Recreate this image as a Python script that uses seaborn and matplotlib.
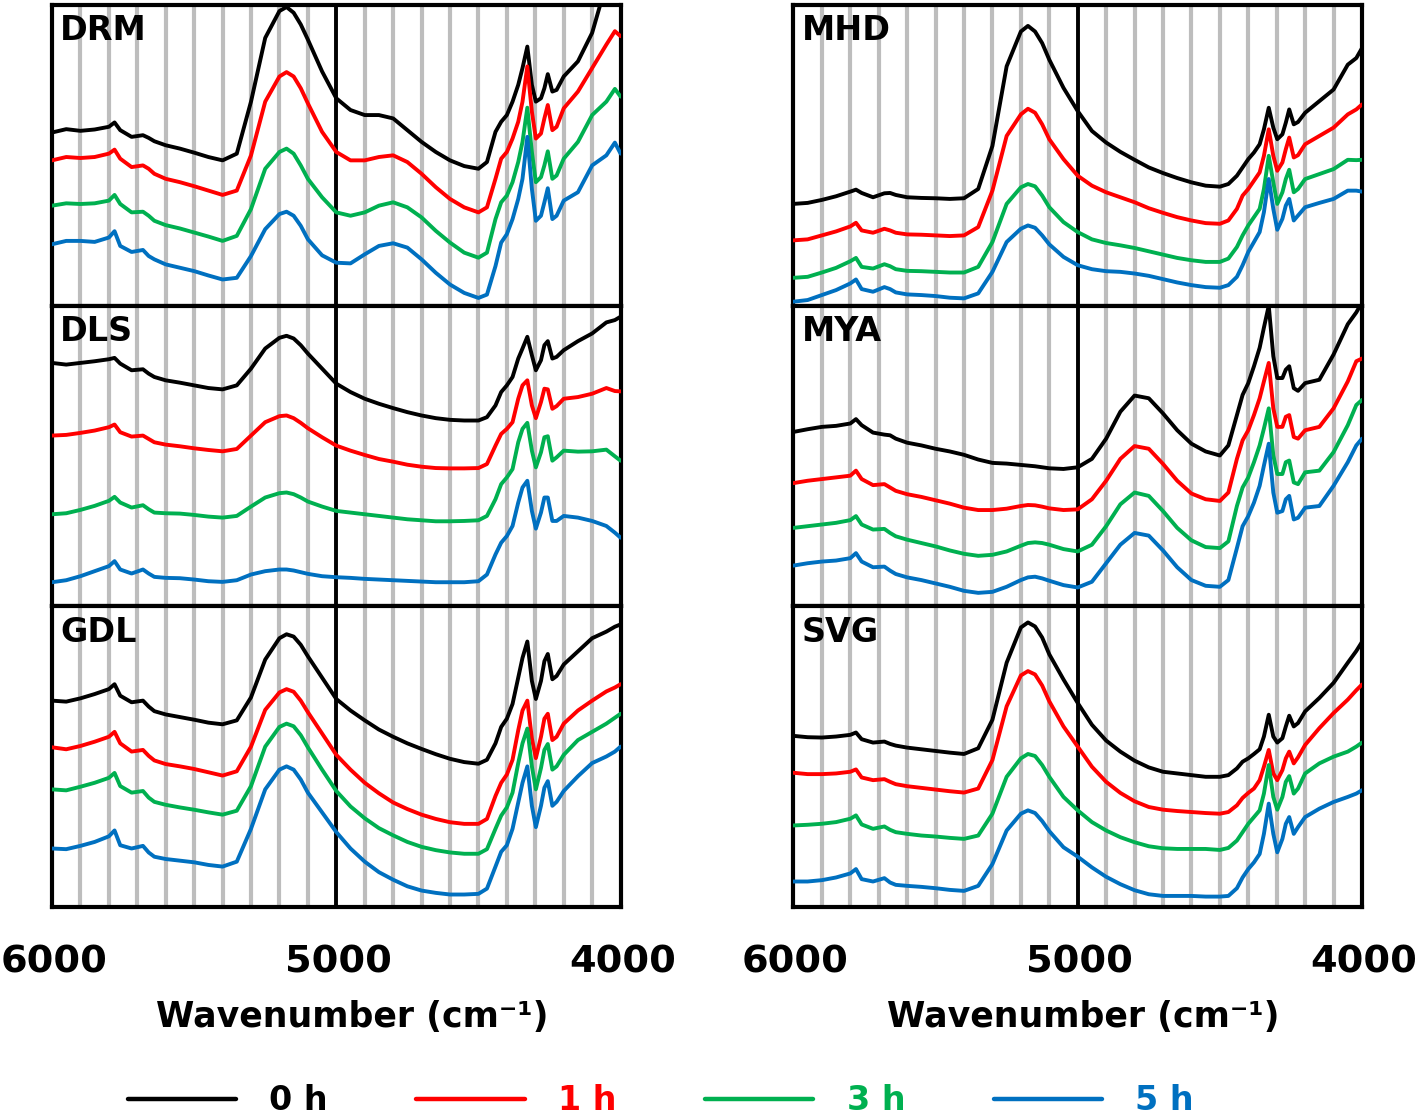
import matplotlib
matplotlib.use("Agg")
import pandas as pd
import matplotlib.pyplot as plt
import seaborn as sns
from matplotlib.ticker import FixedLocator, MultipleLocator
from matplotlib.lines import Line2D
from matplotlib.transforms import ScaledTranslation

# wavenumber grid (cm-1), shared by all spectra
wavenumber = [6000, 5950, 5900, 5850, 5800, 5780, 5760, 5720, 5680, 5660,
              5640, 5600, 5550, 5500, 5450, 5400, 5350, 5300, 5250, 5200,
              5175, 5150, 5125, 5100, 5050, 5000, 4950, 4900, 4850, 4800,
              4750, 4700, 4650, 4600, 4550, 4500, 4470, 4440, 4420, 4400,
              4380, 4360, 4345, 4328, 4312, 4298, 4280, 4268, 4256, 4240,
              4225, 4200, 4150, 4100, 4050, 4020, 4000]

times = ["0 h", "1 h", "3 h", "5 h"]
colors = ["#000000", "#FF0000", "#00B050", "#0070C0"]

# offset spectra, arbitrary units
drm_0h = [516, 526, 521, 525, 533, 546, 523, 503, 508, 500,
          490, 478, 468, 456, 443, 433, 453, 608, 798, 878,
          890, 873, 838, 793, 698, 618, 583, 568, 568, 558,
          523, 488, 458, 433, 416, 408, 428, 518, 548, 568,
          608, 658, 708, 772, 658, 608, 618, 648, 690, 638,
          643, 683, 728, 813, 960, 1010, 1040]
drm_1h = [433, 443, 440, 443, 453, 465, 438, 413, 418, 408,
          393, 378, 368, 356, 343, 330, 343, 448, 608, 683,
          696, 683, 648, 603, 518, 458, 433, 433, 443, 448,
          428, 393, 353, 318, 293, 278, 293, 378, 438, 458,
          498, 548, 608, 713, 578, 498, 513, 558, 598, 523,
          533, 588, 638, 708, 778, 818, 803]
drm_3h = [298, 305, 303, 305, 313, 330, 303, 278, 280, 268,
          253, 240, 230, 218, 206, 193, 208, 288, 408, 458,
          468, 453, 418, 378, 323, 278, 268, 278, 298, 308,
          293, 263, 223, 188, 158, 143, 158, 258, 308, 328,
          368, 428, 488, 590, 458, 368, 383, 418, 460, 378,
          388, 438, 488, 568, 608, 646, 623]
drm_5h = [183, 193, 193, 190, 203, 222, 178, 160, 166, 148,
          138, 123, 113, 103, 90, 78, 83, 148, 228, 273,
          280, 268, 238, 198, 150, 128, 126, 153, 178, 186,
          173, 138, 98, 63, 38, 23, 33, 118, 188, 213,
          258, 318, 378, 503, 348, 253, 268, 308, 350, 258,
          268, 313, 338, 418, 448, 486, 453]

dls_0h = [727, 722, 727, 732, 738, 742, 725, 705, 708, 695,
          685, 675, 668, 660, 652, 648, 660, 710, 770, 802,
          808, 800, 780, 755, 710, 665, 640, 620, 605, 592,
          580, 570, 562, 557, 555, 555, 565, 600, 640, 660,
          685, 740, 770, 805, 750, 705, 735, 780, 792, 740,
          745, 765, 792, 815, 848, 855, 865]
dls_1h = [510, 512, 518, 525, 535, 543, 520, 507, 510, 500,
          490, 483, 478, 472, 467, 463, 470, 510, 550, 568,
          570, 562, 548, 532, 505, 480, 465, 452, 440, 432,
          423, 417, 413, 412, 412, 413, 425, 480, 515, 530,
          550, 620, 660, 675, 600, 562, 610, 650, 648, 590,
          598, 620, 625, 635, 652, 643, 642]
dls_3h = [275, 278, 288, 300, 315, 327, 310, 295, 302, 290,
          280, 278, 277, 273, 268, 265, 270, 298, 325, 338,
          340, 335, 325, 313, 298, 285, 280, 275, 270, 265,
          260, 257, 254, 254, 255, 257, 270, 320, 365, 385,
          410, 490, 530, 548, 465, 415, 460, 505, 508, 435,
          445, 465, 462, 463, 468, 448, 435]
dls_5h = [72, 78, 90, 105, 120, 135, 110, 98, 110, 98,
          88, 85, 84, 80, 75, 73, 78, 95, 105, 110,
          110, 107, 102, 97, 90, 87, 85, 82, 80, 78,
          76, 74, 72, 72, 72, 75, 95, 155, 190, 210,
          240, 310, 355, 375, 285, 232, 280, 325, 325, 255,
          255, 270, 265, 255, 240, 220, 205]

gdl_0h = [628, 625, 635, 648, 663, 678, 643, 623, 628, 610,
          596, 586, 578, 570, 561, 556, 568, 638, 753, 818,
          830, 823, 798, 763, 698, 633, 598, 568, 540, 518,
          498, 481, 465, 451, 441, 436, 448, 498, 548, 573,
          618, 698, 758, 808, 688, 633, 688, 748, 770, 693,
          703, 738, 778, 818, 838, 853, 860]
gdl_1h = [486, 480, 490, 503, 518, 533, 498, 473, 478, 460,
          446, 435, 428, 420, 410, 400, 413, 488, 600, 653,
          663, 655, 628, 593, 528, 463, 418, 378, 346, 318,
          298, 281, 268, 258, 253, 253, 268, 338, 378, 403,
          448, 538, 598, 628, 513, 453, 518, 573, 588, 508,
          518, 558, 598, 628, 656, 668, 678]
gdl_3h = [358, 355, 366, 378, 393, 408, 368, 348, 353, 333,
          320, 311, 303, 296, 288, 281, 293, 368, 488, 548,
          558, 550, 523, 486, 418, 353, 306, 270, 240, 218,
          198, 183, 173, 166, 162, 162, 176, 238, 278, 303,
          348, 438, 498, 543, 428, 358, 423, 478, 496, 418,
          428, 463, 508, 533, 558, 576, 588]
gdl_5h = [178, 176, 186, 198, 215, 233, 188, 178, 186, 166,
          153, 146, 141, 136, 128, 123, 138, 238, 358, 418,
          428, 418, 388, 348, 288, 228, 178, 138, 106, 83,
          63, 50, 43, 38, 38, 40, 56, 123, 168, 188,
          238, 318, 378, 428, 308, 243, 308, 363, 383, 308,
          320, 353, 398, 438, 458, 473, 488]

mhd_0h = [307, 310, 319, 330, 344, 350, 340, 327, 339, 340,
          334, 327, 325, 324, 322, 324, 352, 482, 722, 827,
          844, 827, 792, 742, 657, 587, 527, 492, 464, 440,
          417, 400, 385, 372, 362, 359, 367, 392, 417, 442,
          462, 487, 532, 597, 537, 502, 517, 552, 592, 547,
          554, 582, 617, 652, 727, 747, 777]
mhd_1h = [197, 200, 212, 224, 239, 250, 227, 220, 232, 227,
          220, 215, 214, 212, 210, 212, 237, 347, 512, 577,
          594, 582, 547, 502, 442, 392, 362, 342, 327, 312,
          294, 280, 267, 257, 249, 247, 257, 292, 332, 352,
          377, 402, 452, 532, 452, 407, 432, 472, 507, 447,
          454, 487, 512, 537, 577, 592, 607]
mhd_3h = [84, 87, 100, 114, 134, 144, 117, 112, 125, 119,
          110, 105, 104, 102, 100, 100, 117, 192, 307, 357,
          367, 360, 332, 297, 252, 222, 200, 189, 182, 174,
          164, 154, 144, 137, 132, 132, 142, 177, 212, 242,
          267, 292, 352, 452, 372, 307, 342, 382, 410, 342,
          352, 382, 397, 412, 440, 439, 440]
mhd_5h = [12, 17, 32, 47, 67, 79, 50, 42, 56, 50,
          40, 34, 32, 29, 24, 22, 37, 102, 192, 232,
          242, 235, 212, 185, 147, 122, 110, 104, 102, 97,
          90, 80, 70, 62, 56, 54, 62, 87, 122, 162,
          192, 222, 282, 382, 292, 229, 262, 302, 322, 257,
          272, 297, 310, 322, 347, 347, 344]

mya_0h = [518, 526, 533, 536, 543, 556, 538, 516, 510, 508,
          498, 486, 478, 468, 460, 450, 436, 426, 424, 420,
          418, 416, 413, 410, 408, 413, 438, 498, 578, 626,
          618, 573, 523, 483, 460, 448, 478, 568, 628, 663,
          713, 768, 828, 893, 743, 678, 678, 703, 713, 648,
          640, 663, 673, 748, 838, 873, 903]
mya_1h = [366, 373, 378, 383, 388, 403, 378, 360, 363, 353,
          343, 333, 325, 315, 305, 293, 286, 286, 290, 298,
          301, 300, 296, 291, 286, 288, 318, 373, 438, 476,
          468, 423, 373, 335, 318, 313, 338, 438, 493, 523,
          568, 618, 668, 723, 588, 533, 533, 563, 568, 503,
          498, 523, 533, 588, 668, 728, 736]
mya_3h = [233, 238, 243, 248, 256, 268, 243, 228, 230, 218,
          208, 198, 188, 178, 166, 156, 150, 153, 163, 180,
          188, 190, 188, 183, 170, 163, 183, 238, 303, 338,
          328, 283, 233, 196, 176, 173, 193, 298, 353, 383,
          428, 478, 528, 588, 448, 393, 393, 428, 433, 368,
          363, 398, 403, 458, 538, 598, 613]
mya_5h = [121, 128, 133, 136, 143, 158, 133, 116, 118, 106,
          96, 86, 78, 68, 58, 46, 40, 43, 58, 78,
          86, 88, 83, 76, 63, 56, 73, 128, 183, 218,
          210, 166, 116, 78, 61, 58, 78, 173, 238, 268,
          308, 358, 418, 483, 338, 278, 283, 318, 328, 258,
          263, 293, 298, 358, 428, 478, 498]

svg_0h = [510, 506, 505, 508, 513, 520, 500, 490, 493, 486,
          481, 475, 470, 465, 460, 456, 473, 558, 728, 833,
          848, 836, 803, 753, 678, 608, 543, 496, 463, 436,
          416, 403, 398, 393, 388, 388, 393, 413, 433, 443,
          456, 470, 508, 573, 508, 490, 503, 538, 570, 538,
          548, 583, 623, 668, 728, 763, 790]
svg_1h = [400, 396, 396, 398, 403, 410, 386, 378, 381, 373,
          366, 360, 355, 350, 345, 341, 353, 438, 598, 690,
          703, 693, 660, 613, 538, 478, 418, 373, 340, 315,
          298, 290, 286, 283, 280, 278, 283, 303, 325, 340,
          353, 378, 418, 468, 398, 378, 408, 443, 463, 428,
          446, 483, 533, 578, 618, 646, 663]
svg_3h = [243, 245, 248, 253, 263, 273, 246, 233, 240, 230,
          223, 218, 213, 210, 206, 203, 213, 278, 388, 443,
          456, 450, 423, 388, 328, 288, 253, 228, 208, 193,
          181, 175, 173, 173, 173, 170, 176, 198, 223, 248,
          268, 288, 338, 423, 328, 290, 328, 373, 390, 338,
          353, 398, 428, 448, 463, 478, 490]
svg_5h = [76, 76, 80, 88, 100, 113, 83, 76, 86, 73,
          66, 63, 60, 56, 51, 48, 63, 128, 228, 278,
          288, 280, 256, 226, 178, 150, 118, 90, 68, 50,
          38, 33, 33, 33, 31, 31, 33, 56, 88, 113,
          133, 158, 218, 308, 218, 163, 203, 248, 268, 218,
          238, 268, 293, 313, 328, 338, 348]

spectra = {
    "DRM": [drm_0h, drm_1h, drm_3h, drm_5h],
    "DLS": [dls_0h, dls_1h, dls_3h, dls_5h],
    "GDL": [gdl_0h, gdl_1h, gdl_3h, gdl_5h],
    "MHD": [mhd_0h, mhd_1h, mhd_3h, mhd_5h],
    "MYA": [mya_0h, mya_1h, mya_3h, mya_5h],
    "SVG": [svg_0h, svg_1h, svg_3h, svg_5h],
}
y_top = {"DRM": 896, "DLS": 898, "GDL": 915, "MHD": 907, "MYA": 893, "SVG": 896}
layout = [["DRM", "MHD"], ["DLS", "MYA"], ["GDL", "SVG"]]

sns.set_style("white")
plt.rcParams["font.family"] = ["DejaVu Sans"]
plt.rcParams["text.color"] = "black"
plt.rcParams["axes.labelcolor"] = "black"
plt.rcParams["xtick.color"] = "black"
plt.rcParams["xtick.labelcolor"] = "black"

fig = plt.figure(figsize=(14.18, 11.18), dpi=100)
gs = fig.add_gridspec(3, 2, left=52 / 1418, right=1362 / 1418,
                      top=1 - 5 / 1118, bottom=1 - 907 / 1118,
                      hspace=0, wspace=0.304)
nudge = ScaledTranslation(2 / 100, 0, fig.dpi_scale_trans)

for r in range(3):
    for c in range(2):
        name = layout[r][c]
        ax = fig.add_subplot(gs[r, c])
        rows = []
        for t, vals in zip(times, spectra[name]):
            rows.append(pd.DataFrame({"wavenumber": wavenumber, "intensity": vals, "time": t}))
        df = pd.concat(rows, ignore_index=True)
        sns.lineplot(data=df, x="wavenumber", y="intensity", hue="time",
                     palette=colors, estimator=None, sort=False, lw=2.8,
                     legend=False, ax=ax, zorder=3)
        ax.set_xlim(6000, 4000)
        ax.set_ylim(0, y_top[name])
        ax.set_yticks([])
        ax.set_ylabel("")
        ax.xaxis.set_major_locator(FixedLocator([6000, 5000, 4000]))
        ax.xaxis.set_minor_locator(MultipleLocator(100))
        ax.grid(which="minor", axis="x", color="#BDBDBD", lw=3.0)
        ax.grid(which="major", axis="x", color="black", lw=2.8)
        ax.set_axisbelow(True)
        for sp in ax.spines.values():
            sp.set_color("black")
            sp.set_linewidth(3.0)
        ax.tick_params(which="minor", length=0)
        ax.text(0.014, 0.883, name, transform=ax.transAxes, fontsize=24,
                fontweight="bold", va="baseline", ha="left", color="black")
        if r == 2:
            ax.tick_params(which="major", axis="x", direction="out", length=8,
                           width=3.0, color="black", pad=19, labelsize=27.5)
            for lab in ax.get_xticklabels():
                lab.set_fontweight("bold")
                lab.set_transform(lab.get_transform() + nudge)
            ax.set_xlabel("Wavenumber (cm\u207b\u00b9)", fontsize=25,
                          fontweight="bold", color="black")
            ax.xaxis.set_label_coords(0.528 if c == 0 else 0.51, -0.31)
            ax.xaxis.label.set_va("top")
        else:
            ax.tick_params(which="major", axis="x", length=0, labelbottom=False)
            ax.set_xlabel("")

handles = [Line2D([], [], color=col, lw=3.2) for col in colors]
fig.legend(handles, times, loc="center", bbox_to_anchor=(0.466, 0.0155),
           ncol=4, frameon=False, prop={"weight": "bold", "size": 24},
           labelcolor="linecolor", handlelength=3.25, handletextpad=1.0,
           columnspacing=2.65, borderpad=0, borderaxespad=0)

fig.savefig("out.png", dpi=100)
